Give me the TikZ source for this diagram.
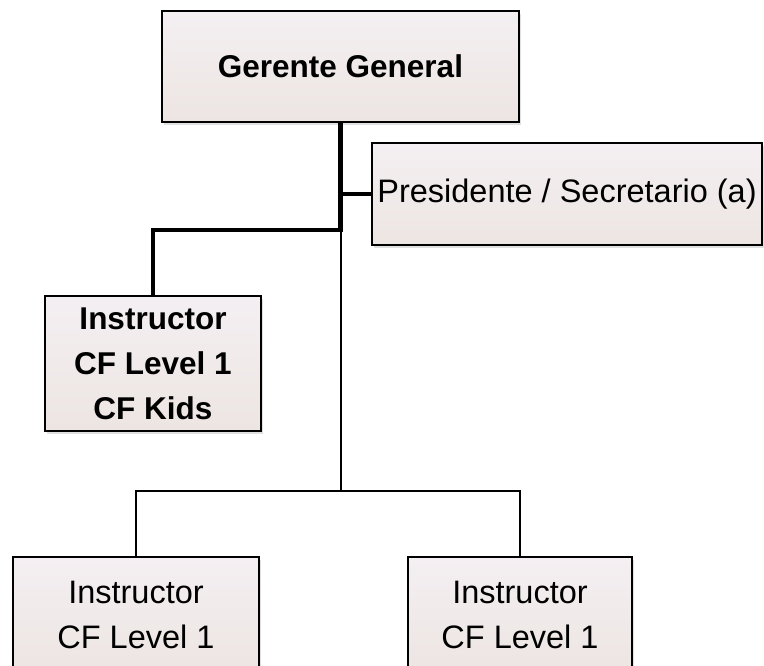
\documentclass[tikz,border=0pt]{standalone}
\usepackage{fontspec}
\setmainfont{Liberation Sans}
\usepackage{tikz}
\usetikzlibrary{positioning,calc,shadows}

\definecolor{boxtop}{RGB}{244,239,242}
\definecolor{boxbottom}{RGB}{236,229,226}

\tikzset{
    orgbox/.style={draw=black, line width=1.6pt, top color=boxtop, bottom color=boxbottom,
        align=center, inner sep=0pt, font=\fontsize{32.5}{45}\selectfont,
        drop shadow={shadow xshift=2pt, shadow yshift=-3pt, fill=black, opacity=0.12}},
    boldbox/.style={orgbox, font=\fontsize{31.5}{45}\selectfont\bfseries},
    thickline/.style={line width=4.5pt},
    thinline/.style={line width=2pt}
}

\begin{document}
\begin{tikzpicture}[x=1pt,y=-1pt]
    \useasboundingbox (0,0) rectangle (764,666);
    \clip (0,0) rectangle (764,666);

    % Top of the chart
    \node [boldbox, minimum width=357, minimum height=111] (gerente) at (340.5,66.5) {Gerente General};
    \node [orgbox, minimum width=390, minimum height=102] (presidente) at (567,194) {Presidente / Secretario (a)};

    % Head instructor
    \node [boldbox, minimum width=216, minimum height=135] (headinstr) at (153,363.5) {Instructor\\CF Level 1\\CF Kids};

    % Instructors at the bottom
    \foreach \name/\x/\w in {instrA/136/246, instrB/520/224} {
        \node [orgbox, minimum width=\w, minimum height=115] (\name) at (\x,614.5) {Instructor\\CF Level 1};
    }

    \coordinate (split) at (gerente.south |- 0,230);
    \coordinate (bus) at (gerente.south |- 0,491);

    % Thick connectors
    \draw [thickline] (gerente.south) -- (split) -| (headinstr.north);
    \draw [thickline] (gerente.south |- presidente.west) -- (presidente.west);

    % Thin connectors
    \draw [thinline] (split) -- (bus);
    \draw [thinline] (bus) -| (instrA.north);
    \draw [thinline] (bus) -| (instrB.north);
\end{tikzpicture}
\end{document}
